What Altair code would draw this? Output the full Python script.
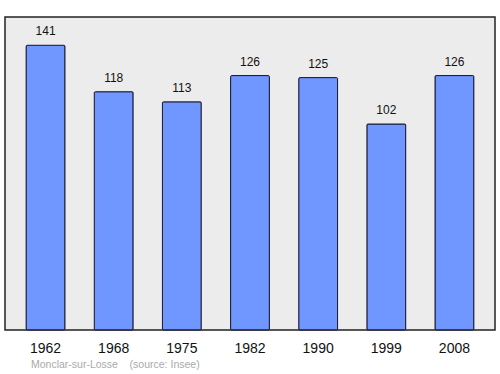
import altair as alt
import pandas as pd

years = ["1962", "1968", "1975", "1982", "1990", "1999", "2008"]
population = [141, 118, 113, 126, 125, 102, 126]

df = pd.DataFrame({"year": years, "pop": population})

FONT = "Liberation Sans"

x = alt.X("year:N", sort=years,
          scale=alt.Scale(paddingInner=0.43, paddingOuter=0.31),
          axis=alt.Axis(title=None, labelAngle=0, labelFontSize=14, labelFont=FONT,
                        labelColor="#111111", ticks=False, domain=False, labelPadding=11))
y = alt.Y("pop:Q", scale=alt.Scale(domain=[0, 155], nice=False, zero=True), axis=None)

bars = alt.Chart(df).mark_bar(color="#7096ff", stroke="#1a1a33", strokeWidth=1,
                              cornerRadius=1).encode(x=x, y=y)
labels = alt.Chart(df).mark_text(dy=-14, fontSize=12, font=FONT, color="#111111").encode(
    x=x, y=y, text="pop:Q")

chart = alt.layer(bars, labels).properties(
    width=490, height=313,
    title=alt.TitleParams("Monclar-sur-Losse\u00a0\u00a0\u00a0\u00a0(source: Insee)",
                          orient="bottom", anchor="start", frame="group", dx=26,
                          offset=5, fontSize=10.5, font=FONT, fontWeight="normal",
                          color="#aaaaaa"),
    autosize=alt.AutoSizeParams(type="none"),
    padding={"left": 5, "top": 17, "right": 5, "bottom": 44},
).configure(background="white").configure_view(
    fill="#ececec", stroke="#222222", strokeWidth=1.5)

chart.save("out.html", embed_options={"renderer": "svg", "actions": False})
